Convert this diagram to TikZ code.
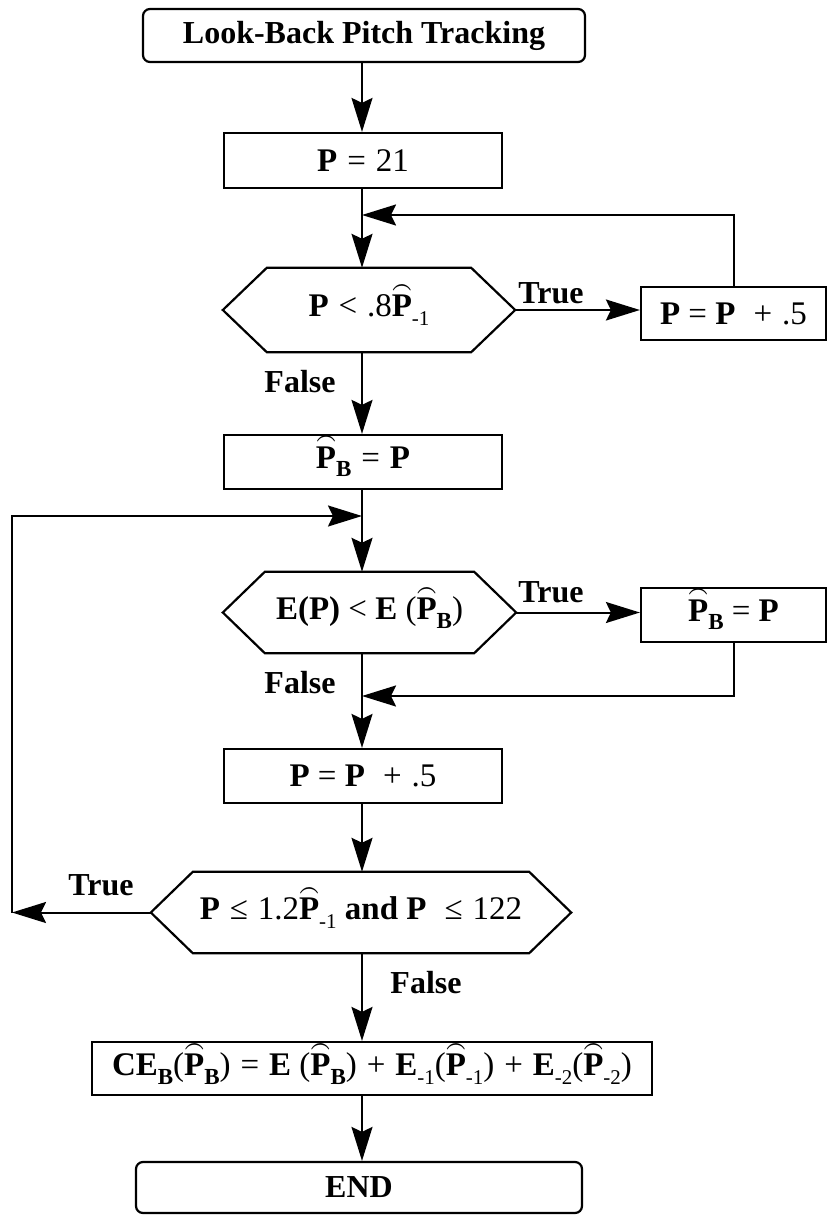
\documentclass[tikz,border=0pt]{standalone}
\usepackage{fontspec}
\setmainfont{Liberation Serif}
\usepackage{graphicx}
\usetikzlibrary{arrows.meta}

% bold P with a rounded hat
\newcommand\Ph{\ooalign{\textbf{P}\cr\hidewidth\raisebox{0.72em}{\scalebox{0.7}[0.9]{\boldmath$\frown$}}\hidewidth\cr}}
% lowered subscripts: regular and bold
\newcommand\lsub[1]{\raisebox{-0.25em}{\fontsize{21}{21}\selectfont\mdseries #1}}
\newcommand\bsub[1]{\raisebox{-0.25em}{\fontsize{23}{23}\selectfont\bfseries #1}}
% wider gap around operators
\newcommand\op[1]{\hspace{0.3em}#1\hspace{0.3em}}
% hexagonal decision frame around a named node
\newcommand\hexframe[2]{\draw[line width=2.2pt] (#1.west) -- ([xshift=#2]#1.north west) -- ([xshift=-#2]#1.north east) -- (#1.east) -- ([xshift=-#2]#1.south east) -- ([xshift=#2]#1.south west) -- cycle;}

\begin{document}
\begin{tikzpicture}[x=1pt,y=-1pt,line join=miter,
  box/.style={draw,line width=2.2pt,inner sep=0pt,font=\fontsize{33}{39}\selectfont},
  rbox/.style={box,rounded corners=7pt,font=\fontsize{32}{38}\selectfont\bfseries},
  hexnode/.style={inner sep=0pt,font=\fontsize{33}{39}\selectfont},
  lbl/.style={inner sep=0pt,font=\fontsize{32}{38}\selectfont\bfseries},
  arr/.style={line width=2pt,-{Stealth[length=34pt,width=21pt,inset=5pt]}}]

\fill[white] (0,0) rectangle (828,1215);
\useasboundingbox (0,0) rectangle (828,1215);

% process boxes and decisions
\node[rbox,minimum width=442pt,minimum height=53pt] (top) at (364,35.5) {Look-Back Pitch Tracking};
\node[box,minimum width=278pt,minimum height=55pt] (p21) at (363,160.5) {\textbf{P}\op{=}21};
\node[hexnode,minimum width=292pt,minimum height=84pt] (h1) at (369,310) {\textbf{P}\op{<}.8\Ph\lsub{-1}};
\hexframe{h1}{44pt}
\node[box,minimum width=185pt,minimum height=53pt] (rb1) at (733.5,313.5) {\textbf{P} = \textbf{P}\op{\ +}.5};
\node[box,minimum width=278pt,minimum height=54pt] (pb1) at (363,462) {\Ph\bsub{B}\op{=}\textbf{P}};
\node[hexnode,minimum width=293pt,minimum height=81pt] (h2) at (369.5,612.5) {\textbf{E(P)} < \textbf{E} (\Ph\bsub{B})};
\hexframe{h2}{42pt}
\node[box,minimum width=185pt,minimum height=54pt] (rb2) at (733.5,615) {\Ph\bsub{B} = \textbf{P}};
\node[box,minimum width=278pt,minimum height=54pt] (pp) at (363,776) {\textbf{P} = \textbf{P}\op{\ +}.5};
\node[hexnode,minimum width=420pt,minimum height=81pt] (h3) at (361,912.5) {\textbf{P}\op{≤}1.2\Ph\lsub{-1} \textbf{and P}\op{\ ≤}122};
\hexframe{h3}{42pt}
\node[box,minimum width=560pt,minimum height=53pt] (ce) at (372,1068.5) {\textbf{CE}\bsub{B}(\Ph\bsub{B})\op{=}\textbf{E} (\Ph\bsub{B})\op{+}\textbf{E}\lsub{-1}(\Ph\lsub{-1})\op{+}\textbf{E}\lsub{-2}(\Ph\lsub{-2})};
\node[rbox,minimum width=446pt,minimum height=51pt] (end) at (359,1187.5) {END};

% junctions on the main flow line
\coordinate (j1) at (362,215);
\coordinate (j2) at (362,516);
\coordinate (j3) at (362,696);
\coordinate (c1) at (12,912.5);

% branch labels
\node[lbl] (t1) at (551,293) {True};
\node[lbl] (f1) at (300,382) {False};
\node[lbl] (t2) at (551,592) {True};
\node[lbl] (f2) at (300,683) {False};
\node[lbl] (t3) at (101,885) {True};
\node[lbl] (f3) at (426,983) {False};

% connectors
\draw[arr] (top.south -| j1) -- (p21.north -| j1);
\draw[arr] (p21.south -| j1) -- (h1.north -| j1);
\draw[arr] (rb1.north) |- (j1);
\draw[arr] (h1.east) -- (h1.east -| rb1.west);
\draw[arr] (h1.south -| j1) -- (pb1.north -| j1);
\draw[arr] (pb1.south -| j1) -- (h2.north -| j1);
\draw[arr] (c1) |- (j2);
\draw[arr] (h2.east) -- (h2.east -| rb2.west);
\draw[arr] (rb2.south) |- (j3);
\draw[arr] (h2.south -| j1) -- (pp.north -| j1);
\draw[arr] (pp.south -| j1) -- (h3.north -| j1);
\draw[arr] (h3.west) -- (c1);
\draw[arr] (h3.south -| j1) -- (ce.north -| j1);
\draw[arr] (ce.south -| j1) -- (end.north -| j1);
\end{tikzpicture}
\end{document}
